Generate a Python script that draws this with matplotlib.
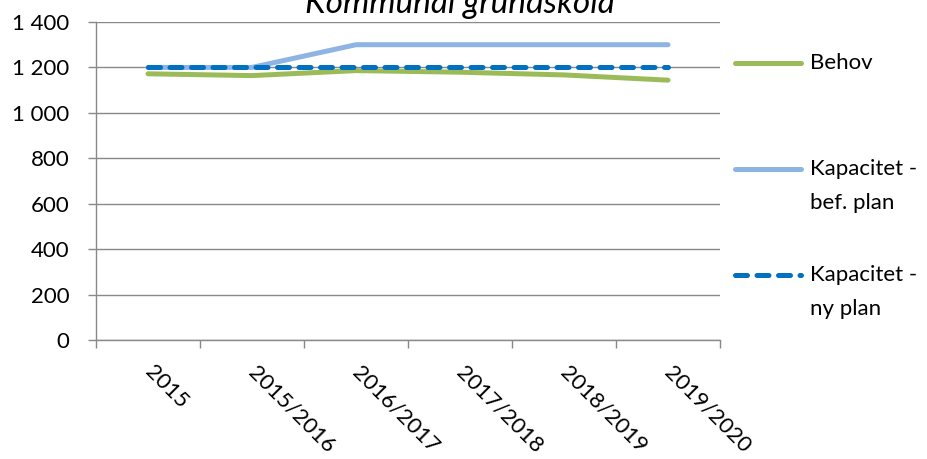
import matplotlib
matplotlib.use("Agg")
import matplotlib.pyplot as plt
from matplotlib.lines import Line2D
from matplotlib.ticker import FuncFormatter, FixedLocator

years = ["2015", "2015/2016", "2016/2017", "2017/2018", "2018/2019", "2019/2020"]
behov = [1172, 1164, 1186, 1179, 1167, 1144]
kap_bef = [1200, 1200, 1300, 1300, 1300, 1300]
kap_ny = [1200, 1200, 1200, 1200, 1200, 1200]

GREEN = "#9BBB59"
LIGHT = "#8EB4E3"
DARK = "#0070C0"
GRID = "#898989"
LW = 3.6
DASH = (0, (2.4, 1.9))

plt.rcParams["font.family"] = ["Lato", "DejaVu Sans"]

fig = plt.figure(figsize=(9.27, 4.59), dpi=100)
ax = fig.add_axes([96 / 927, 1 - 340 / 459, 624 / 927, 318 / 459])

x = list(range(len(years)))
ax.plot(x, behov, color=GREEN, lw=LW, solid_capstyle="round", zorder=3)
ax.plot(x, kap_bef, color=LIGHT, lw=LW, solid_capstyle="round", zorder=3)
ax.plot(x, kap_ny, color=DARK, lw=LW, ls=DASH, dash_capstyle="round", zorder=4)

ax.set_xlim(-0.5, len(years) - 0.5)
ax.set_ylim(0, 1400)
ax.set_yticks(range(0, 1401, 200))
ax.yaxis.set_major_formatter(FuncFormatter(lambda v, p: f"{int(v):,}".replace(",", " ")))
ax.grid(axis="y", color=GRID, lw=1)
ax.set_axisbelow(True)

ax.set_xticks(x)
ax.set_xticklabels(years, rotation=-45, ha="left", va="center", rotation_mode="anchor")
ax.xaxis.set_minor_locator(FixedLocator([i - 0.5 for i in range(len(years) + 1)]))
ax.tick_params(axis="x", which="major", length=0, pad=21, labelsize=16)
ax.tick_params(axis="x", which="minor", length=6, color=GRID, width=1)
ax.tick_params(axis="y", length=6, color=GRID, width=1, labelsize=16, pad=13)

for side in ("top", "right"):
    ax.spines[side].set_visible(False)
for side in ("left", "bottom"):
    ax.spines[side].set_color(GRID)
    ax.spines[side].set_linewidth(1)

fig.text(460 / 927, 1 - 13 / 459, "Kommunal grundskola", ha="center", va="baseline",
         fontsize=24, style="italic")

# legend on the right, handle level with the first text line
entries = [
    (63, ["Behov"], dict(color=GREEN, lw=LW, solid_capstyle="round")),
    (169, ["Kapacitet -", "bef. plan"], dict(color=LIGHT, lw=LW, solid_capstyle="round")),
    (275, ["Kapacitet -", "ny plan"], dict(color=DARK, lw=LW, ls=DASH, dash_capstyle="round")),
]
for ypx, lines, style in entries:
    yf = 1 - ypx / 459
    fig.add_artist(Line2D([735 / 927, 801 / 927], [yf, yf], transform=fig.transFigure, **style))
    for k, line in enumerate(lines):
        fig.text(810 / 927, 1 - (ypx + 34 * k) / 459, line, ha="left", va="center",
                 fontsize=16)

fig.savefig("out.png", dpi=100)
